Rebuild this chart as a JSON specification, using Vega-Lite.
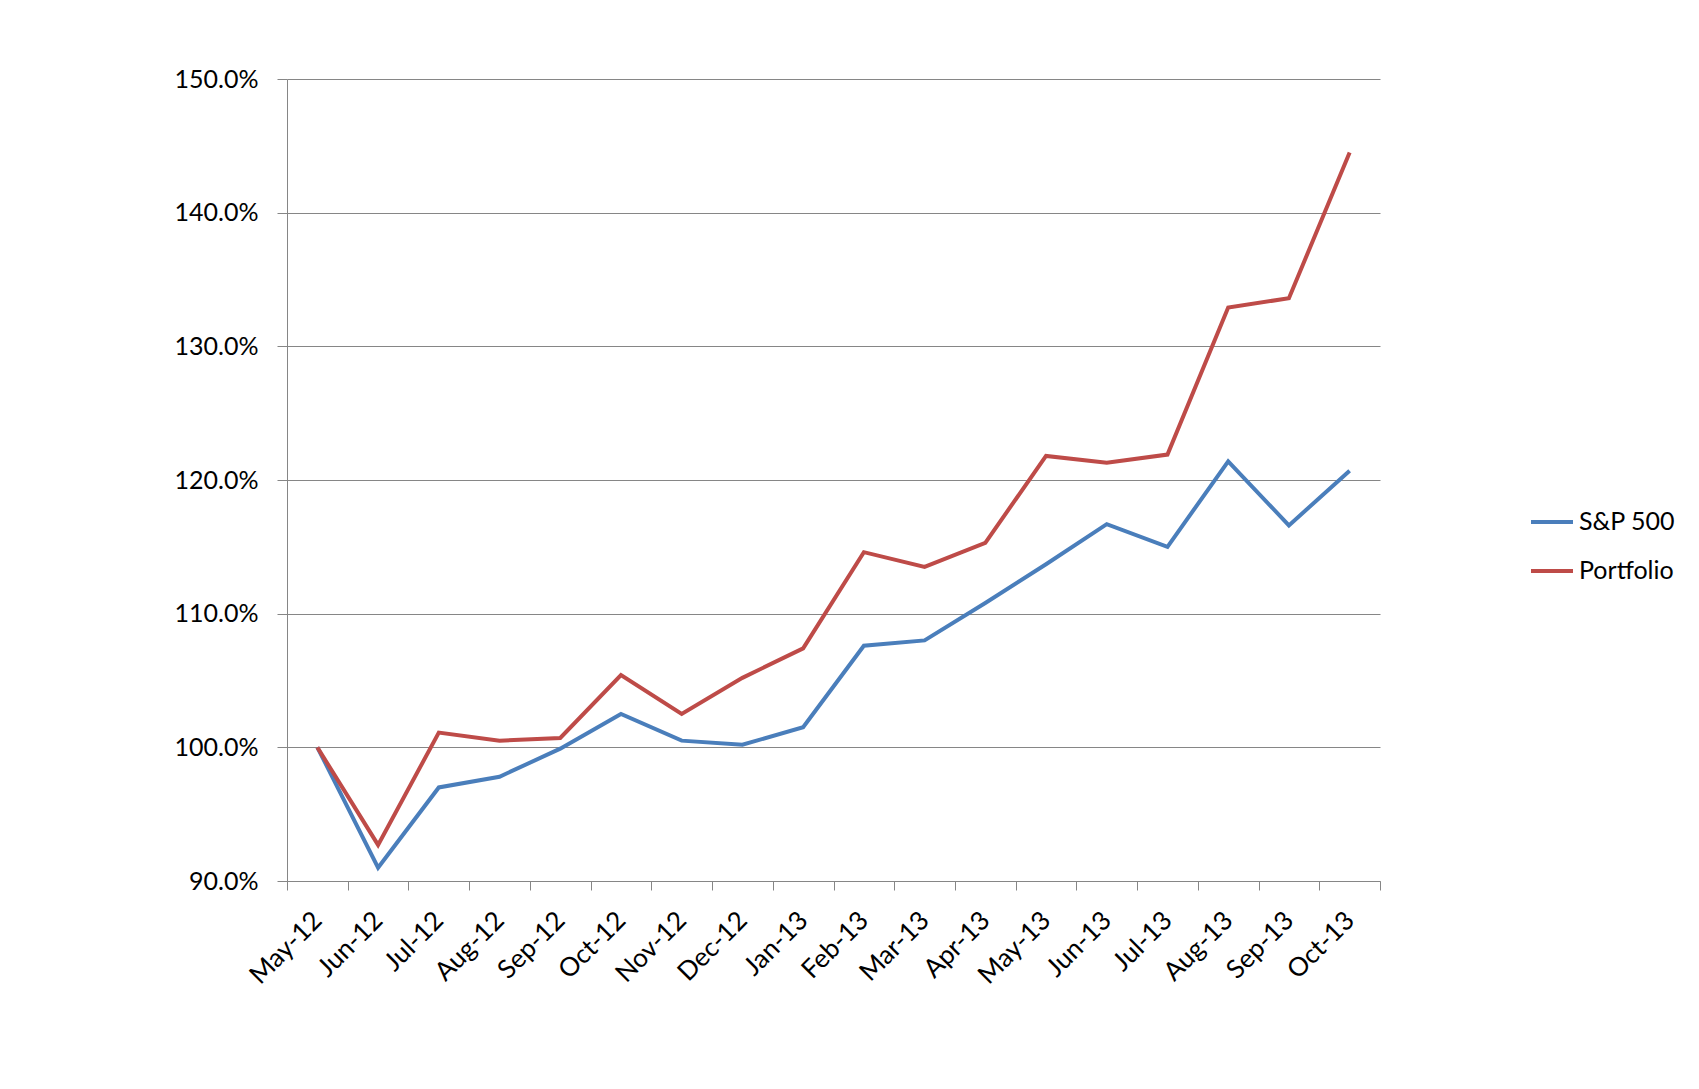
{
  "$schema": "https://vega.github.io/schema/vega-lite/v6.json",
  "autosize": {"type": "none"},
  "padding": {"left": 287, "top": 79, "right": 319, "bottom": 208},
  "width": 1093,
  "height": 802,
  "background": "white",
  "config": {
    "view": {"stroke": null},
    "font": "Lato",
    "axis": {"labelFont": "Lato", "labelColor": "#000000"}
  },
  "data": {
    "values": [
      {"month": "May-12", "series": "S&P 500", "value": 1.000},
      {"month": "Jun-12", "series": "S&P 500", "value": 0.910},
      {"month": "Jul-12", "series": "S&P 500", "value": 0.970},
      {"month": "Aug-12", "series": "S&P 500", "value": 0.978},
      {"month": "Sep-12", "series": "S&P 500", "value": 0.999},
      {"month": "Oct-12", "series": "S&P 500", "value": 1.025},
      {"month": "Nov-12", "series": "S&P 500", "value": 1.005},
      {"month": "Dec-12", "series": "S&P 500", "value": 1.002},
      {"month": "Jan-13", "series": "S&P 500", "value": 1.015},
      {"month": "Feb-13", "series": "S&P 500", "value": 1.076},
      {"month": "Mar-13", "series": "S&P 500", "value": 1.080},
      {"month": "Apr-13", "series": "S&P 500", "value": 1.108},
      {"month": "May-13", "series": "S&P 500", "value": 1.137},
      {"month": "Jun-13", "series": "S&P 500", "value": 1.167},
      {"month": "Jul-13", "series": "S&P 500", "value": 1.150},
      {"month": "Aug-13", "series": "S&P 500", "value": 1.214},
      {"month": "Sep-13", "series": "S&P 500", "value": 1.166},
      {"month": "Oct-13", "series": "S&P 500", "value": 1.207},
      {"month": "May-12", "series": "Portfolio", "value": 1.000},
      {"month": "Jun-12", "series": "Portfolio", "value": 0.927},
      {"month": "Jul-12", "series": "Portfolio", "value": 1.011},
      {"month": "Aug-12", "series": "Portfolio", "value": 1.005},
      {"month": "Sep-12", "series": "Portfolio", "value": 1.007},
      {"month": "Oct-12", "series": "Portfolio", "value": 1.054},
      {"month": "Nov-12", "series": "Portfolio", "value": 1.025},
      {"month": "Dec-12", "series": "Portfolio", "value": 1.052},
      {"month": "Jan-13", "series": "Portfolio", "value": 1.074},
      {"month": "Feb-13", "series": "Portfolio", "value": 1.146},
      {"month": "Mar-13", "series": "Portfolio", "value": 1.135},
      {"month": "Apr-13", "series": "Portfolio", "value": 1.153},
      {"month": "May-13", "series": "Portfolio", "value": 1.218},
      {"month": "Jun-13", "series": "Portfolio", "value": 1.213},
      {"month": "Jul-13", "series": "Portfolio", "value": 1.219},
      {"month": "Aug-13", "series": "Portfolio", "value": 1.329},
      {"month": "Sep-13", "series": "Portfolio", "value": 1.336},
      {"month": "Oct-13", "series": "Portfolio", "value": 1.445}
    ]
  },
  "mark": {"type": "line", "strokeWidth": 4, "strokeJoin": "miter"},
  "encoding": {
    "x": {
      "field": "month",
      "type": "nominal",
      "sort": null,
      "scale": {"paddingInner": 0, "paddingOuter": 0},
      "axis": {
        "title": null,
        "tickBand": "extent",
        "domainColor": "#868686",
        "tickColor": "#868686",
        "tickSize": 9,
        "labelAngle": -45,
        "labelAlign": "right",
        "labelBaseline": "middle",
        "labelPadding": 26,
        "labelFontSize": 26,
        "grid": false
      }
    },
    "y": {
      "field": "value",
      "type": "quantitative",
      "scale": {"domain": [0.9, 1.5], "zero": false, "nice": false},
      "axis": {
        "title": null,
        "values": [0.9, 1.0, 1.1, 1.2, 1.3, 1.4, 1.5],
        "format": ".1%",
        "domainColor": "#868686",
        "tickColor": "#868686",
        "tickSize": 10,
        "gridColor": "#868686",
        "gridWidth": 1,
        "labelPadding": 19,
        "labelFontSize": 25
      }
    },
    "color": {
      "field": "series",
      "type": "nominal",
      "scale": {"domain": ["S&P 500", "Portfolio"], "range": ["#4A7EBB", "#BE4B48"]},
      "legend": {
        "title": null,
        "orient": "none",
        "legendX": 1242,
        "legendY": 420,
        "symbolType": "stroke",
        "symbolSize": 1764,
        "symbolStrokeWidth": 4,
        "labelFontSize": 25,
        "labelColor": "#000000",
        "labelOffset": 4,
        "rowPadding": 13
      }
    }
  }
}
